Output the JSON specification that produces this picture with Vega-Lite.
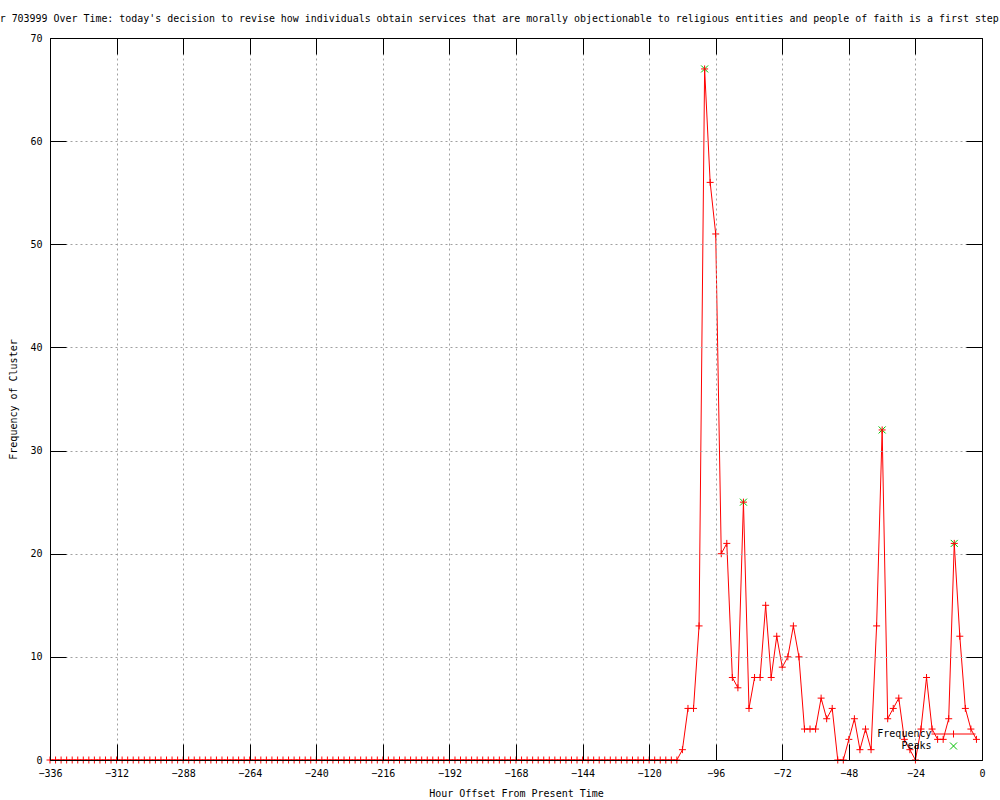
{
  "$schema": "https://vega.github.io/schema/vega-lite/v6.json",
  "width": 932,
  "height": 722,
  "autosize": {"type": "none"},
  "padding": {"left": 50, "top": 38, "right": 18, "bottom": 40},
  "background": "white",
  "title": {
    "text": "Frequency of Cluster 703999 Over Time: today's decision to revise how individuals obtain services that are morally objectionable to religious entities and people of faith is a first step",
    "anchor": "start",
    "frame": "group",
    "dx": -164,
    "offset": 4,
    "baseline": "middle",
    "font": "DejaVu Sans Mono",
    "fontSize": 9.95,
    "fontWeight": "normal",
    "color": "black"
  },
  "datasets": {
    "freq": [
      {"hour": -336, "freq": 0}, {"hour": -334, "freq": 0}, {"hour": -332, "freq": 0}, {"hour": -330, "freq": 0},
      {"hour": -328, "freq": 0}, {"hour": -326, "freq": 0}, {"hour": -324, "freq": 0}, {"hour": -322, "freq": 0},
      {"hour": -320, "freq": 0}, {"hour": -318, "freq": 0}, {"hour": -316, "freq": 0}, {"hour": -314, "freq": 0},
      {"hour": -312, "freq": 0}, {"hour": -310, "freq": 0}, {"hour": -308, "freq": 0}, {"hour": -306, "freq": 0},
      {"hour": -304, "freq": 0}, {"hour": -302, "freq": 0}, {"hour": -300, "freq": 0}, {"hour": -298, "freq": 0},
      {"hour": -296, "freq": 0}, {"hour": -294, "freq": 0}, {"hour": -292, "freq": 0}, {"hour": -290, "freq": 0},
      {"hour": -288, "freq": 0}, {"hour": -286, "freq": 0}, {"hour": -284, "freq": 0}, {"hour": -282, "freq": 0},
      {"hour": -280, "freq": 0}, {"hour": -278, "freq": 0}, {"hour": -276, "freq": 0}, {"hour": -274, "freq": 0},
      {"hour": -272, "freq": 0}, {"hour": -270, "freq": 0}, {"hour": -268, "freq": 0}, {"hour": -266, "freq": 0},
      {"hour": -264, "freq": 0}, {"hour": -262, "freq": 0}, {"hour": -260, "freq": 0}, {"hour": -258, "freq": 0},
      {"hour": -256, "freq": 0}, {"hour": -254, "freq": 0}, {"hour": -252, "freq": 0}, {"hour": -250, "freq": 0},
      {"hour": -248, "freq": 0}, {"hour": -246, "freq": 0}, {"hour": -244, "freq": 0}, {"hour": -242, "freq": 0},
      {"hour": -240, "freq": 0}, {"hour": -238, "freq": 0}, {"hour": -236, "freq": 0}, {"hour": -234, "freq": 0},
      {"hour": -232, "freq": 0}, {"hour": -230, "freq": 0}, {"hour": -228, "freq": 0}, {"hour": -226, "freq": 0},
      {"hour": -224, "freq": 0}, {"hour": -222, "freq": 0}, {"hour": -220, "freq": 0}, {"hour": -218, "freq": 0},
      {"hour": -216, "freq": 0}, {"hour": -214, "freq": 0}, {"hour": -212, "freq": 0}, {"hour": -210, "freq": 0},
      {"hour": -208, "freq": 0}, {"hour": -206, "freq": 0}, {"hour": -204, "freq": 0}, {"hour": -202, "freq": 0},
      {"hour": -200, "freq": 0}, {"hour": -198, "freq": 0}, {"hour": -196, "freq": 0}, {"hour": -194, "freq": 0},
      {"hour": -192, "freq": 0}, {"hour": -190, "freq": 0}, {"hour": -188, "freq": 0}, {"hour": -186, "freq": 0},
      {"hour": -184, "freq": 0}, {"hour": -182, "freq": 0}, {"hour": -180, "freq": 0}, {"hour": -178, "freq": 0},
      {"hour": -176, "freq": 0}, {"hour": -174, "freq": 0}, {"hour": -172, "freq": 0}, {"hour": -170, "freq": 0},
      {"hour": -168, "freq": 0}, {"hour": -166, "freq": 0}, {"hour": -164, "freq": 0}, {"hour": -162, "freq": 0},
      {"hour": -160, "freq": 0}, {"hour": -158, "freq": 0}, {"hour": -156, "freq": 0}, {"hour": -154, "freq": 0},
      {"hour": -152, "freq": 0}, {"hour": -150, "freq": 0}, {"hour": -148, "freq": 0}, {"hour": -146, "freq": 0},
      {"hour": -144, "freq": 0}, {"hour": -142, "freq": 0}, {"hour": -140, "freq": 0}, {"hour": -138, "freq": 0},
      {"hour": -136, "freq": 0}, {"hour": -134, "freq": 0}, {"hour": -132, "freq": 0}, {"hour": -130, "freq": 0},
      {"hour": -128, "freq": 0}, {"hour": -126, "freq": 0}, {"hour": -124, "freq": 0}, {"hour": -122, "freq": 0},
      {"hour": -120, "freq": 0}, {"hour": -118, "freq": 0}, {"hour": -116, "freq": 0}, {"hour": -114, "freq": 0},
      {"hour": -112, "freq": 0}, {"hour": -110, "freq": 0},
      {"hour": -108, "freq": 1}, {"hour": -106, "freq": 5}, {"hour": -104, "freq": 5}, {"hour": -102, "freq": 13},
      {"hour": -100, "freq": 67}, {"hour": -98, "freq": 56}, {"hour": -96, "freq": 51}, {"hour": -94, "freq": 20},
      {"hour": -92, "freq": 21}, {"hour": -90, "freq": 8}, {"hour": -88, "freq": 7}, {"hour": -86, "freq": 25},
      {"hour": -84, "freq": 5}, {"hour": -82, "freq": 8}, {"hour": -80, "freq": 8}, {"hour": -78, "freq": 15},
      {"hour": -76, "freq": 8}, {"hour": -74, "freq": 12}, {"hour": -72, "freq": 9}, {"hour": -70, "freq": 10},
      {"hour": -68, "freq": 13}, {"hour": -66, "freq": 10}, {"hour": -64, "freq": 3}, {"hour": -62, "freq": 3},
      {"hour": -60, "freq": 3}, {"hour": -58, "freq": 6}, {"hour": -56, "freq": 4}, {"hour": -54, "freq": 5},
      {"hour": -52, "freq": 0}, {"hour": -50, "freq": 0}, {"hour": -48, "freq": 2}, {"hour": -46, "freq": 4},
      {"hour": -44, "freq": 1}, {"hour": -42, "freq": 3}, {"hour": -40, "freq": 1}, {"hour": -38, "freq": 13},
      {"hour": -36, "freq": 32}, {"hour": -34, "freq": 4}, {"hour": -32, "freq": 5}, {"hour": -30, "freq": 6},
      {"hour": -28, "freq": 2}, {"hour": -26, "freq": 1}, {"hour": -24, "freq": 0}, {"hour": -22, "freq": 3},
      {"hour": -20, "freq": 8}, {"hour": -18, "freq": 3}, {"hour": -16, "freq": 2}, {"hour": -14, "freq": 2},
      {"hour": -12, "freq": 4}, {"hour": -10, "freq": 21}, {"hour": -8, "freq": 12}, {"hour": -6, "freq": 5},
      {"hour": -4, "freq": 3}, {"hour": -2, "freq": 2}
    ],
    "peaks": [
      {"hour": -100, "freq": 67, "series": "Peaks"},
      {"hour": -86, "freq": 25, "series": "Peaks"},
      {"hour": -36, "freq": 32, "series": "Peaks"},
      {"hour": -10, "freq": 21, "series": "Peaks"}
    ]
  },
  "layer": [
    {
      "data": {"name": "freq"},
      "mark": {"type": "line", "color": "#ff0000", "strokeWidth": 1, "clip": false},
      "encoding": {
        "x": {
          "field": "hour", "type": "quantitative",
          "scale": {"domain": [-336, 0], "nice": false, "zero": false},
          "axis": {
            "orient": "bottom",
            "title": "Hour Offset From Present Time",
            "values": [-336, -312, -288, -264, -240, -216, -192, -168, -144, -120, -96, -72, -48, -24, 0],
            "grid": true,
            "titlePadding": 10,
            "zindex": 1
          }
        },
        "y": {
          "field": "freq", "type": "quantitative",
          "scale": {"domain": [0, 70], "nice": false, "zero": false},
          "axis": {
            "orient": "left",
            "title": "Frequency of Cluster",
            "values": [0, 10, 20, 30, 40, 50, 60, 70],
            "grid": true,
            "titlePadding": 11,
            "zindex": 1
          }
        }
      }
    },
    {
      "data": {"name": "peaks"},
      "mark": {"type": "point", "filled": false, "size": 49, "strokeWidth": 1, "opacity": 1, "clip": false},
      "encoding": {
        "x": {"field": "hour", "type": "quantitative", "axis": null},
        "y": {"field": "freq", "type": "quantitative", "axis": null},
        "color": {
          "field": "series", "type": "nominal",
          "scale": {"domain": ["Frequency", "Peaks"], "range": ["#ff0000", "#00c000"]},
          "legend": {
            "orient": "none",
            "legendX": 898.5,
            "legendY": 691,
            "title": null,
            "padding": 0,
            "rowPadding": 0,
            "symbolSize": 49,
            "labelAlign": "right",
            "labelOffset": -27,
            "labelFont": "DejaVu Sans Mono",
            "labelFontSize": 10,
            "labelColor": "black",
            "symbolStrokeWidth": 1
          }
        },
        "shape": {
          "field": "series", "type": "nominal",
          "scale": {"domain": ["Frequency", "Peaks"], "range": ["M-6.3,0H6.3M0,-1V1", "M-1,-1L1,1M-1,1L1,-1"]}
        }
      }
    },
    {
      "data": {"name": "freq"},
      "mark": {"type": "point", "shape": "M-1,0H1M0,-1V1", "filled": false, "color": "#ff0000", "size": 49, "strokeWidth": 1, "opacity": 1, "clip": false},
      "encoding": {
        "x": {
          "field": "hour", "type": "quantitative",
          "axis": {
            "orient": "top",
            "title": null,
            "labels": false,
            "grid": false,
            "values": [-336, -312, -288, -264, -240, -216, -192, -168, -144, -120, -96, -72, -48, -24, 0],
            "zindex": 1
          }
        },
        "y": {
          "field": "freq", "type": "quantitative",
          "axis": {
            "orient": "right",
            "title": null,
            "labels": false,
            "grid": false,
            "values": [0, 10, 20, 30, 40, 50, 60, 70],
            "zindex": 1
          }
        }
      }
    }
  ],
  "resolve": {"axis": {"x": "independent", "y": "independent"}},
  "config": {
    "view": {"stroke": null},
    "axis": {
      "domain": true,
      "domainColor": "black",
      "domainWidth": 1,
      "ticks": true,
      "tickColor": "black",
      "tickWidth": 1,
      "tickSize": -16,
      "labelPadding": 24,
      "labelFlush": false,
      "labelOverlap": false,
      "labelFont": "DejaVu Sans Mono",
      "labelFontSize": 10,
      "labelColor": "black",
      "titleFont": "DejaVu Sans Mono",
      "titleFontSize": 10,
      "titleFontWeight": "normal",
      "titleColor": "black",
      "gridColor": "#a0a0a0",
      "gridDash": [2, 3],
      "gridWidth": 1
    }
  }
}
